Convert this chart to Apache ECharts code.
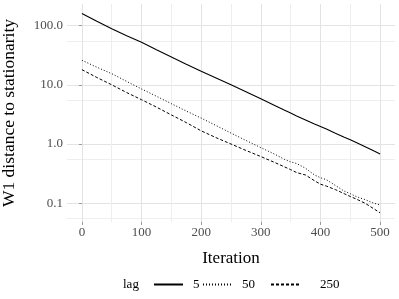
<!DOCTYPE html>
<html>
<head>
<meta charset="utf-8">
<script src="https://cdn.jsdelivr.net/npm/echarts@6/dist/echarts.min.js"></script>
<style>html,body{margin:0;padding:0;background:#fff;}#c{width:399px;height:299px;}</style>
</head>
<body>
<div id="c"></div>
<script>
const iterations = [0,25,50,75,100,125,150,175,200,225,250,275,300,325,340,350,360,375,390,400,410,425,440,450,460,475,490,500];
const lag5   = [160,118,88,67,52,39,29.5,22.3,16.9,13,10,7.6,5.8,4.4,3.72,3.33,2.98,2.55,2.18,1.98,1.79,1.52,1.30,1.18,1.06,0.9,0.76,0.68];
const lag50  = [25.9,19.8,15.4,11.4,8.5,6.4,4.8,3.6,2.74,2.05,1.53,1.15,0.87,0.66,0.55,0.5,0.47,0.39,0.3,0.27,0.25,0.2,0.16,0.145,0.13,0.115,0.1,0.094];
const lag250 = [18,13.3,10,7.4,5.6,4.2,3.1,2.3,1.67,1.28,1.0,0.78,0.615,0.48,0.41,0.37,0.33,0.3,0.24,0.21,0.195,0.17,0.145,0.13,0.118,0.1,0.08,0.069];
const seriesNames = ['5','50','250'];

const FONT = '"Liberation Serif", "DejaVu Serif", serif';
const pairs = v => iterations.map((x,i)=>[x, v[i]]);
const chart = echarts.init(document.getElementById('c'), null, {renderer:'canvas'});

function legendFor(name, left, width, pad){
  return {
    data:[name], left:left, top:278, padding:0, itemWidth:width, itemHeight:14,
    itemStyle:{opacity:0, borderWidth:0},
    textStyle:{fontFamily:FONT, fontSize:13, color:'#000', padding:[0,0,0,pad]},
    selectedMode:false
  };
}

const splitMajor = {show:true, showMinLine:false, showMaxLine:false, lineStyle:{color:'#e3e3e3', width:1}};

chart.setOption({
  animation:false,
  backgroundColor:'#fff',
  grid:{left:67, right:4, top:4, bottom:77, containLabel:false, outerBoundsMode:'none'},
  xAxis:{
    type:'value', min:-25, max:525, splitNumber:5,
    name:'Iteration', nameLocation:'middle', nameGap:28,
    nameTextStyle:{fontFamily:FONT, fontSize:17, color:'#000'},
    axisLine:{show:false},
    axisTick:{show:true, length:3, lineStyle:{color:'#999'}},
    axisLabel:{fontFamily:FONT, fontSize:13, color:'#4d4d4d', margin:4, showMinLabel:false, showMaxLabel:false},
    splitLine:splitMajor,
    minorTick:{show:false, splitNumber:2},
    minorSplitLine:{show:true, lineStyle:{color:'#eeeeee', width:1}}
  },
  yAxis:{
    type:'log', logBase:10, min:0.0483, max:231,
    name:'W1 distance to stationarity', nameLocation:'middle', nameGap:49,
    nameTextStyle:{fontFamily:FONT, fontSize:17.5, color:'#000'},
    axisLine:{show:false},
    axisTick:{show:true, length:3, lineStyle:{color:'#999'}},
    axisLabel:{fontFamily:FONT, fontSize:13, color:'#4d4d4d', margin:4, showMinLabel:false, showMaxLabel:false,
      formatter: v => Number(v).toFixed(1)},
    splitLine:splitMajor,
    minorTick:{show:false, splitNumber:2},
    minorSplitLine:{show:true, lineStyle:{color:'#eeeeee', width:1}}
  },
  legend:[
    legendFor('5', 153, 29, 5),
    legendFor('50', 202, 29, 5),
    legendFor('250', 270, 29, 15)
  ],
  graphic:[{type:'text', left:123, top:278, style:{text:'lag', font:'13px "Liberation Serif", serif', fill:'#000'}}],
  series:[
    {name:seriesNames[0], type:'line', data:pairs(lag5), showSymbol:false, symbol:'none', smooth:false,
     lineStyle:{color:'#000', width:1.1, type:'solid'}, itemStyle:{color:'#000'}},
    {name:seriesNames[1], type:'line', data:pairs(lag50), showSymbol:false, symbol:'none',
     lineStyle:{color:'#000', width:1, type:[1,2]}, itemStyle:{color:'#000'}},
    {name:seriesNames[2], type:'line', data:pairs(lag250), showSymbol:false, symbol:'none',
     lineStyle:{color:'#000', width:1, type:[3,2]}, itemStyle:{color:'#000'}}
  ]
});
</script>
</body>
</html>
